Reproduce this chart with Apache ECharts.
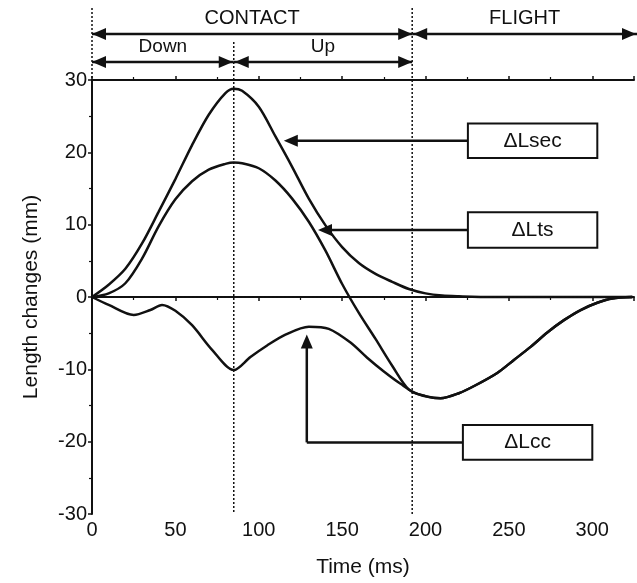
<!DOCTYPE html>
<html>
<head>
<meta charset="utf-8">
<script src="https://cdn.jsdelivr.net/npm/echarts@6/dist/echarts.min.js"></script>
<style>
html, body { margin: 0; padding: 0; background: #fff; }
#main { width: 637px; height: 583px; }
</style>
</head>
<body>
<div id="main"></div>
<script>
// length changes during a hop (ms, mm)
const secTime = [0, 10, 20, 30, 40, 50, 60, 70, 80, 85, 90, 100, 110, 120, 130, 140, 150, 160, 170, 180, 190, 200, 210, 220, 240, 270, 300, 324]
const secVals = [0, 1.7, 3.9, 7.4, 11.8, 16.3, 21, 25.2, 28.2, 28.8, 28.5, 26.3, 22.2, 18, 13.6, 9.9, 6.9, 4.7, 3.2, 2.1, 1.1, 0.5, 0.2, 0.1, 0, 0, 0, 0]
const tsTime = [0, 10, 20, 30, 40, 50, 60, 70, 80, 85, 90, 100, 110, 120, 130, 140, 150, 160, 170, 180, 190, 200, 209, 220, 230, 243, 253, 263, 273, 283, 293, 303, 312, 324]
const tsVals = [0, 0.5, 1.9, 5.3, 9.8, 13.5, 16, 17.6, 18.4, 18.6, 18.5, 17.8, 16.1, 13.6, 10.4, 6.4, 1.8, -2.2, -5.8, -9.5, -12.8, -13.7, -14, -13.3, -12.2, -10.5, -8.7, -6.9, -4.9, -3.2, -1.8, -0.8, -0.2, 0]
const ccTime = [0, 10, 25, 35, 42, 50, 60, 72, 85, 95, 105, 116, 130, 142, 155, 165, 175, 185, 195, 209, 220, 230, 243, 253, 263, 273, 283, 293, 303, 312, 324]
const ccVals = [0, -1.1, -2.5, -1.8, -1.1, -1.9, -3.9, -7.3, -10.1, -8.3, -6.7, -5.2, -4.1, -4.4, -6.3, -8.4, -10.3, -12, -13.4, -14, -13.3, -12.2, -10.5, -8.7, -6.9, -4.9, -3.2, -1.8, -0.8, -0.2, 0]
const xTicks = [0, 50, 100, 150, 200, 250, 300]
const phaseTimes = [0, 85, 192] // touchdown, down/up switch, take-off
const phaseNames = ['CONTACT', 'FLIGHT', 'Down', 'Up']
const curveNames = ['ΔLsec', 'ΔLts', 'ΔLcc']

const ink = '#111'
const font = '"Liberation Sans", Arial, Helvetica, sans-serif'

const pairs = (t, v) => t.map((x, i) => [x, v[i]])

function curve (name, t, v) {
  return {
    name,
    type: 'line',
    data: pairs(t, v),
    smooth: 0.3,
    symbol: 'none',
    lineStyle: { color: ink, width: 2.5 }
  }
}

const chart = echarts.init(document.getElementById('main'))

const axisLine = { show: true, lineStyle: { color: ink, width: 2 } }
const option = {
  animation: false,
  grid: { left: 92, right: 0, top: 80, bottom: 68 },
  xAxis: [
    {
      type: 'value',
      min: 0,
      max: 325,
      interval: 50,
      position: 'bottom',
      axisLine,
      axisTick: { show: true, length: 4, lineStyle: { color: ink, width: 1.5 } },
      minorTick: { show: true, splitNumber: 2, length: 3, lineStyle: { color: ink, width: 1.2 } },
      splitLine: { show: false },
      axisLabel: {
        color: ink,
        fontSize: 20,
        fontFamily: font,
        margin: 6,
        formatter: v => xTicks.includes(v) ? String(v) : ''
      },
      name: 'Time (ms)',
      nameLocation: 'middle',
      nameGap: 43,
      nameTextStyle: { color: ink, fontSize: 21, fontFamily: font }
    },
    {
      type: 'value',
      min: 0,
      max: 325,
      interval: 50,
      position: 'top',
      axisLine,
      axisTick: { show: true, length: 4, lineStyle: { color: ink, width: 1.5 } },
      minorTick: { show: true, splitNumber: 2, length: 3, lineStyle: { color: ink, width: 1.2 } },
      splitLine: { show: false },
      axisLabel: { show: false }
    }
  ],
  yAxis: {
    type: 'value',
    min: -30,
    max: 30,
    interval: 10,
    axisLine,
    axisTick: { show: true, length: 4, lineStyle: { color: ink, width: 1.5 } },
    minorTick: { show: true, splitNumber: 2, length: 3, lineStyle: { color: ink, width: 1.2 } },
    splitLine: { show: false },
    axisLabel: { color: ink, fontSize: 20, fontFamily: font, margin: 5 },
    name: 'Length changes (mm)',
    nameLocation: 'middle',
    nameGap: 50,
    nameTextStyle: { color: ink, fontSize: 21, fontFamily: font }
  },
  series: [
    Object.assign(curve(curveNames[0], secTime, secVals), {
      markLine: {
        silent: true,
        symbol: 'none',
        label: { show: false },
        lineStyle: { color: ink, width: 1.5, type: [2, 2] },
        data: [{ yAxis: 0 }]
      }
    }),
    curve(curveNames[1], tsTime, tsVals),
    curve(curveNames[2], ccTime, ccVals)
  ]
}
chart.setOption(option)

// annotations: phase arrows, label boxes and pointers
function px (x, y) {
  return chart.convertToPixel({ xAxisIndex: 0, yAxisIndex: 0 }, [x, y])
}

function head (x, y, dir) {
  // dir: -1 points left, 1 points right, -2 points up
  let pts
  if (dir === -2) pts = [[x, y], [x - 6, y + 14], [x + 6, y + 14]]
  else pts = [[x, y], [x - dir * 14, y - 6], [x - dir * 14, y + 6]]
  return { type: 'polygon', shape: { points: pts }, style: { fill: ink } }
}

function seg (x1, y1, x2, y2, dash) {
  return {
    type: 'line',
    shape: { x1, y1, x2, y2 },
    style: { stroke: ink, lineWidth: dash ? 1.5 : 2.5, lineDash: dash ? [2, 2] : null }
  }
}

function label (text, x, y, size) {
  return {
    type: 'text',
    x,
    y,
    style: {
      text,
      font: size + 'px ' + font,
      fill: ink,
      align: 'center',
      verticalAlign: 'middle',
      textAlign: 'center',
      textVerticalAlign: 'middle'
    }
  }
}

function build () {
  const els = []
  const top = px(0, 30)[1]
  const bottom = px(0, -30)[1]
  const right = chart.getWidth()
  const x0 = px(phaseTimes[0], 0)[0]
  const x1 = px(phaseTimes[1], 0)[0]
  const x2 = px(phaseTimes[2], 0)[0]

  // phase boundaries
  els.push(seg(x0, 8, x0, top, true))
  els.push(seg(x1, 42, x1, bottom, true))
  els.push(seg(x2, 8, x2, bottom, true))

  // CONTACT / FLIGHT
  const yA = 34
  els.push(seg(x0, yA, x2, yA), head(x0, yA, -1), head(x2, yA, 1))
  els.push(seg(x2, yA, right, yA), head(x2 + 1, yA, -1), head(right - 1, yA, 1))
  els.push(label(phaseNames[0], (x0 + x2) / 2, 18, 20))
  els.push(label(phaseNames[1], (x2 + right) / 2, 18, 20))

  // Down / Up
  const yB = 62
  els.push(seg(x0, yB, x1, yB), head(x0, yB, -1), head(x1 - 1, yB, 1))
  els.push(seg(x1, yB, x2, yB), head(x1 + 1, yB, -1), head(x2, yB, 1))
  els.push(label(phaseNames[2], (x0 + x1) / 2, 47, 19))
  els.push(label(phaseNames[3], (x1 + x2) / 2, 47, 19))

  // boxes with pointers
  const boxes = [
    { text: curveNames[0], a: px(225.4, 24), b: px(303, 19.2), tip: px(115, 21.4) },
    { text: curveNames[1], a: px(225.4, 11.7), b: px(303, 6.8), tip: px(135.5, 9.2) },
    { text: curveNames[2], a: px(222.4, -17.7), b: px(300, -22.5), tip: px(128.8, -5.2) }
  ]
  boxes.forEach((bx, i) => {
    const l = bx.a[0]
    const t = bx.a[1]
    const w = bx.b[0] - l
    const h = bx.b[1] - t
    const cy = t + h / 2
    els.push({
      type: 'rect',
      shape: { x: l, y: t, width: w, height: h },
      style: { fill: '#fff', stroke: ink, lineWidth: 2 }
    })
    els.push(label(bx.text, l + w / 2, cy, 21))
    if (i < 2) {
      els.push(seg(l, cy, bx.tip[0] + 10, cy), head(bx.tip[0], cy, -1))
    } else {
      els.push(seg(l, cy, bx.tip[0], cy), seg(bx.tip[0], cy, bx.tip[0], bx.tip[1] + 10), head(bx.tip[0], bx.tip[1], -2))
    }
  })

  chart.setOption({ graphic: { elements: els } })
}
build()
</script>
</body>
</html>
